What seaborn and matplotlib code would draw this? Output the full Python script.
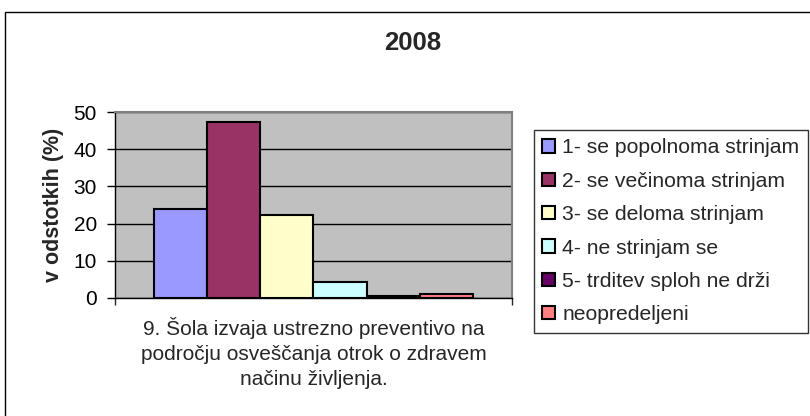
import matplotlib
matplotlib.use("Agg")
import matplotlib.pyplot as plt
import matplotlib.patches as mpatches
import seaborn as sns
import pandas as pd

# ── data ──
question = ["9. Šola izvaja ustrezno preventivo na\npodročju osveščanja otrok o zdravem\nnačinu življenja."]
answers = ["1- se popolnoma strinjam", "2- se večinoma strinjam", "3- se deloma strinjam",
           "4- ne strinjam se", "5- trditev sploh ne drži", "neopredeljeni"]
percent = [23.9, 47.3, 22.3, 4.4, 0.6, 1.2]
colors = ["#9999FF", "#993366", "#FFFFCC", "#CCFFFF", "#660066", "#FF8080"]
y_ticks = [0, 10, 20, 30, 40, 50]

df = pd.DataFrame({"q": question * len(answers), "answer": answers, "pct": percent})

sns.set_style("white")
plt.rcParams["font.family"] = ["Liberation Sans", "DejaVu Sans"]

fig = plt.figure(figsize=(8.1, 4.16), dpi=100)
ax = fig.add_axes([0.142, 0.2837, 0.490, 0.447])
ax.set_facecolor("#C0C0C0")

sns.barplot(data=df, x="q", y="pct", hue="answer", hue_order=answers,
            palette=colors, width=0.806, edgecolor="black", linewidth=1.5,
            saturation=1, legend=False, ax=ax)

ax.set_xlim(-0.5, 0.5)
ax.set_ylim(0, 50)
ax.set_yticks(y_ticks)
ax.yaxis.grid(True, color="black", linewidth=1)
ax.set_axisbelow(True)
for side in ["top", "right"]:
    ax.spines[side].set_color("#808080")
    ax.spines[side].set_linewidth(1.5)
for side in ["left", "bottom"]:
    ax.spines[side].set_color("black")
    ax.spines[side].set_linewidth(1)

ax.tick_params(axis="y", direction="out", length=6, width=1, colors="black",
               labelsize=15, pad=7, left=True)
ax.set_xticks([-0.5, 0.5], minor=True)
ax.tick_params(axis="x", which="minor", direction="out", length=5, width=1, bottom=True)
ax.tick_params(axis="x", which="major", length=0, labelsize=15, pad=14)
ax.set_xticks([0])
ax.set_xticklabels(question, linespacing=1.4)
ax.set_xlabel("")
ax.set_ylabel("v odstotkih (%)", fontsize=15.5, fontweight="bold")
ax.yaxis.set_label_coords(-0.128, 0.5)

handles = [mpatches.Patch(facecolor=c, edgecolor="black", linewidth=1.5, label=a)
           for a, c in zip(answers, colors)]
leg = fig.legend(handles=handles, loc="upper left", bbox_to_anchor=(0.659, 0.6875),
                 bbox_transform=fig.transFigure, borderaxespad=0, frameon=True,
                 fancybox=False, edgecolor="black", fontsize=15.2,
                 handlelength=0.6, handleheight=0.6, handletextpad=0.35,
                 labelspacing=0.68, borderpad=0.4)
leg.get_frame().set_linewidth(1)

fig.text(0.509, 0.897, "2008", ha="center", va="center", fontsize=18.5, fontweight="bold")

# outer chart frame (only left and top edges fall inside the image)
fig.patches.append(mpatches.Rectangle((5 / 810, -0.1), 1.1, 0.1 + 1 - 12 / 416,
                                      transform=fig.transFigure, fill=False,
                                      edgecolor="black", linewidth=1))

fig.savefig("out.png", dpi=100)
